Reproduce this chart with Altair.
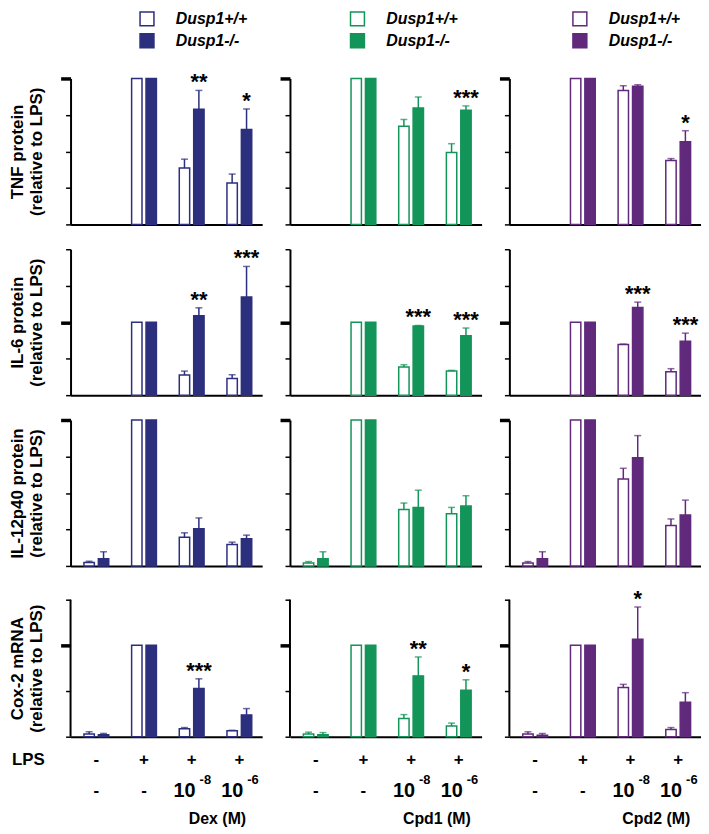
import altair as alt
import pandas as pd

FONT = "Liberation Sans, Arial, Helvetica, sans-serif"

groups = ["ctrl", "LPS", "low", "high"]
genotypes = ["Dusp1+/+", "Dusp1-/-"]
drugs = ["Dex (M)", "Cpd1 (M)", "Cpd2 (M)"]
colors = ["#2B2F7D", "#139459", "#60297B"]
row_titles = [
    ["TNF protein", "(relative to LPS)"],
    ["IL-6 protein", "(relative to LPS)"],
    ["IL-12p40 protein", "(relative to LPS)"],
    ["Cox-2 mRNA", "(relative to LPS)"],
]
y_max = [1, 2, 1, 1.5]
y_ticks = [[0, 0.25, 0.5, 0.75, 1], [0, 0.5, 1, 1.5, 2], [0, 0.25, 0.5, 0.75, 1], [0, 0.5, 1, 1.5]]

# WT (Dusp1+/+) means, [row][drug][group]
wt_mean = [
    [[None, 1.0, 0.386, 0.284], [None, 1.0, 0.673, 0.492], [None, 1.0, 0.918, 0.438]],
    [[None, 1.0, 0.276, 0.227], [None, 1.0, 0.386, 0.330], [None, 1.0, 0.694, 0.320]],
    [[0.023, 1.0, 0.197, 0.147], [0.020, 1.0, 0.386, 0.358], [0.020, 1.0, 0.596, 0.277]],
    [[0.029, 1.0, 0.087, 0.065], [0.029, 1.0, 0.200, 0.116], [0.029, 1.0, 0.540, 0.080]],
]
wt_sem = [
    [[None, 0, 0.061, 0.061], [None, 0, 0.046, 0.061], [None, 0, 0.032, 0.013]],
    [[None, 0, 0.054, 0.053], [None, 0, 0.031, 0.010], [None, 0, 0.006, 0.043]],
    [[0.009, 0, 0.030, 0.016], [0.010, 0, 0.045, 0.043], [0.010, 0, 0.073, 0.045]],
    [[0.025, 0, 0.013, 0.005], [0.021, 0, 0.042, 0.033], [0.025, 0, 0.033, 0.020]],
]
# KO (Dusp1-/-) means
ko_mean = [
    [[None, 1.0, 0.789, 0.651], [None, 1.0, 0.798, 0.782], [None, 1.0, 0.946, 0.567]],
    [[None, 1.0, 1.088, 1.347], [None, 1.0, 0.948, 0.816], [None, 1.0, 1.200, 0.740]],
    [[0.050, 1.0, 0.254, 0.186], [0.050, 1.0, 0.401, 0.410], [0.050, 1.0, 0.741, 0.349]],
    [[0.022, 1.0, 0.529, 0.239], [0.022, 1.0, 0.666, 0.508], [0.015, 1.0, 1.068, 0.377]],
]
ko_sem = [
    [[None, 0, 0.129, 0.140], [None, 0, 0.075, 0.030], [None, 0, 0.011, 0.075]],
    [[None, 0, 0.109, 0.417], [None, 0, 0.007, 0.104], [None, 0, 0.075, 0.110]],
    [[0.047, 0, 0.075, 0.025], [0.047, 0, 0.118, 0.071], [0.047, 0, 0.152, 0.102]],
    [[0.014, 0, 0.105, 0.069], [0.023, 0, 0.207, 0.115], [0.021, 0, 0.352, 0.105]],
]
# significance marks over Dusp1-/- bars, [row][drug] -> {group: stars}
stars = [
    [{"low": "**", "high": "*"}, {"high": "***"}, {"high": "*"}],
    [{"low": "**", "high": "***"}, {"low": "***", "high": "***"}, {"low": "***", "high": "***"}],
    [{}, {}, {}],
    [{"low": "***"}, {"low": "**", "high": "*"}, {"low": "*"}],
]
lps_signs = ["-", "+", "+", "+"]
dose_base = ["-", "-", "10", "10"]
dose_exp = ["", "", "-8", "-6"]

CELL_H = 147          # grid cell height (all rows)
AXIS_H = [147, 147, 147, 138]   # drawn axis height of each row
PANEL_W = 193
legend_x = [69, 60, 63]


def panel(r, c):
    h = CELL_H
    color = colors[c]
    recs = []
    for gi, g in enumerate(groups):
        for geno, means, sems in ((genotypes[0], wt_mean, wt_sem), (genotypes[1], ko_mean, ko_sem)):
            m = means[r][c][gi]
            if m is None:
                continue
            s = sems[r][c][gi]
            recs.append({"group": g, "geno": geno, "mean": m, "sem": s, "top": m + s})
    df = pd.DataFrame(recs)
    err_df = df[df["sem"] > 0]
    star_df = pd.DataFrame(
        [{"group": g, "geno": genotypes[1], "label": lab,
          "top": float(df[(df.group == g) & (df.geno == genotypes[1])]["top"].iloc[0])}
         for g, lab in stars[r][c].items()]
    )

    short = AXIS_H[r] < CELL_H
    dom_top = y_max[r] * CELL_H / AXIS_H[r]

    x_axis = alt.Axis(labels=False, ticks=False, title=None, domainColor="black", domainWidth=2, grid=False)
    x_scale = alt.Scale(domain=groups, paddingInner=0.48, paddingOuter=0.25, align=0.5625)
    xo_scale = alt.Scale(domain=genotypes, paddingInner=0.28, paddingOuter=0)
    y_axis_kw = dict(
        values=y_ticks[r], labels=False, grid=False, domain=not short,
        domainColor="black", domainWidth=2, tickColor="black",
        tickSize={"condition": {"test": "datum.value === 1", "value": 10}, "value": 5},
        tickWidth={"condition": {"test": "datum.value === 1", "value": 3.5}, "value": 1.5},
    )
    ah = AXIS_H[r]
    if c == 0:
        y_axis = alt.Axis(title=row_titles[r], titleFont=FONT, titleFontSize=17, titleFontWeight="bold",
                          titleLineHeight=19, titleX=-44, titleY=h - ah / 2, titleAngle=-90,
                          titleBaseline="bottom", titleAlign="center", titleColor="black", **y_axis_kw)
    else:
        y_axis = alt.Axis(title=None, **y_axis_kw)
    y_scale = alt.Scale(domain=[0, dom_top], nice=False, zero=True)

    X = alt.X("group:N", scale=x_scale, axis=x_axis)
    XO = alt.XOffset("geno:N", scale=xo_scale)

    if r == 0:
        legend = alt.Legend(orient="none", legendX=legend_x[c], legendY=-68, title=None,
                            symbolType="square", symbolSize=196, symbolStrokeColor=color,
                            symbolStrokeWidth=1.5, labelFont=FONT, labelFontSize=16,
                            labelFontWeight="bold", labelFontStyle="italic", labelColor="black",
                            labelOffset=21, rowPadding=2, padding=0)
    else:
        legend = None

    bars = alt.Chart(df).mark_bar(stroke=color, strokeWidth=1.5).encode(
        x=X, xOffset=XO,
        y=alt.Y("mean:Q", scale=y_scale, axis=y_axis),
        fill=alt.Fill("geno:N", scale=alt.Scale(domain=genotypes, range=["white", color]), legend=legend),
    )
    rules = alt.Chart(err_df).mark_rule(color=color, strokeWidth=1.5).encode(
        x=X, xOffset=XO,
        y=alt.Y("mean:Q", scale=y_scale, axis=y_axis), y2="top:Q",
    )
    caps = alt.Chart(err_df).mark_tick(color=color, orient="horizontal", size=7, thickness=1.5).encode(
        x=X, xOffset=XO,
        y=alt.Y("top:Q", scale=y_scale, axis=y_axis),
    )
    layers = [bars, rules, caps]
    if short:
        # y-axis line that stops at the top tick
        layers.append(alt.Chart(pd.DataFrame({"lo": [0], "hi": [y_max[r]]})).mark_rule(
            color="black", strokeWidth=2).encode(
            x=alt.value(0), y=alt.Y("lo:Q", scale=y_scale, axis=y_axis), y2="hi:Q"))
    if len(star_df):
        layers.append(
            alt.Chart(star_df).mark_text(font=FONT, fontSize=22, fontWeight="bold", color="black",
                                         baseline="alphabetic", dy=-1).encode(
                x=X, xOffset=XO, y=alt.Y("top:Q", scale=y_scale, axis=y_axis), text="label:N")
        )
    if r == 3:
        lps_df = pd.DataFrame({"group": groups, "sign": lps_signs})
        dose_df = pd.DataFrame({"group": groups, "base": dose_base, "exp": dose_exp})
        plain = dose_df[dose_df["exp"] == ""]
        powers = dose_df[dose_df["exp"] != ""]
        tkw = dict(font=FONT, fontWeight="bold", color="black", baseline="middle")
        layers.append(alt.Chart(lps_df).mark_text(fontSize=17, **tkw).encode(
            x=X, y=alt.value(h + 23), text="sign:N"))
        layers.append(alt.Chart(plain).mark_text(fontSize=17, **tkw).encode(
            x=X, y=alt.value(h + 55), text="base:N"))
        layers.append(alt.Chart(powers).mark_text(fontSize=20, align="right", dx=4, **tkw).encode(
            x=X, y=alt.value(h + 55), text="base:N"))
        layers.append(alt.Chart(powers).mark_text(fontSize=13, align="left", dx=8, **tkw).encode(
            x=X, y=alt.value(h + 44), text="exp:N"))
        layers.append(alt.Chart(pd.DataFrame({"t": [drugs[c]]})).mark_text(fontSize=16, **tkw).encode(
            x=alt.value(148), y=alt.value(h + 83), text="t:N"))
        if c == 0:
            layers.append(alt.Chart(pd.DataFrame({"t": ["LPS"]})).mark_text(fontSize=17, align="left", **tkw).encode(
                x=alt.value(-59), y=alt.value(h + 23), text="t:N"))

    return alt.layer(*layers).properties(width=PANEL_W, height=h)


panels = [panel(r, c) for r in range(4) for c in range(3)]
chart = alt.concat(*panels, columns=3, spacing={"row": 25, "column": 28}, bounds="flush").resolve_scale(
    fill="independent", x="independent", y="independent", xOffset="independent")
chart = chart.properties(padding=0, background="white").configure_view(stroke=None)

chart.save("out.html", embed_options={"renderer": "svg", "actions": False})
